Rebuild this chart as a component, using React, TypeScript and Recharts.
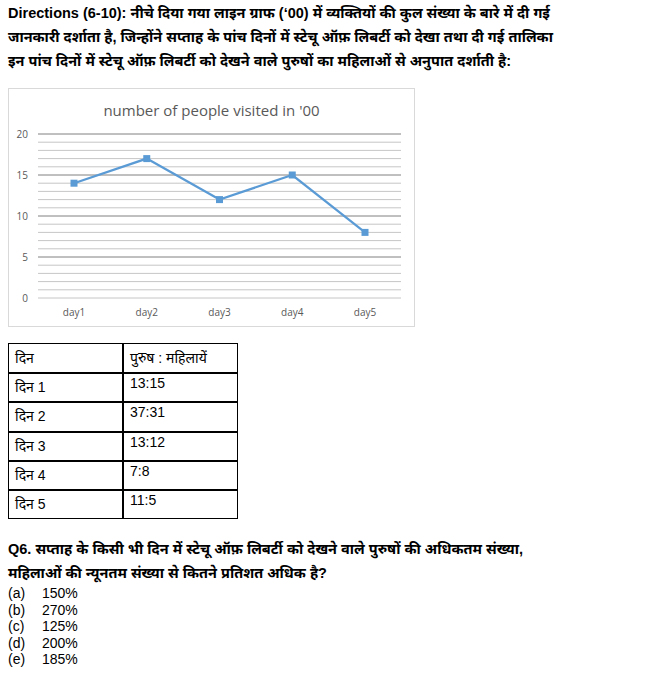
import React from "react";
import { LineChart, Line, XAxis, YAxis, ReferenceLine } from "recharts";

// chart data ('00 people)
const days = ["day1", "day2", "day3", "day4", "day5"];
const visitors = [14, 17, 12, 15, 8];
const yTicks = [0, 5, 10, 15, 20];
const minorLines = [
  0, 1, 2, 3, 4, 6, 7, 8, 9, 11, 12, 13, 14, 16, 17, 18, 19,
];
const majorLines = [5, 10, 15, 20];

// ratio table
const tableDays = ["दिन 1", "दिन 2", "दिन 3", "दिन 4", "दिन 5"];
const ratios = ["13:15", "37:31", "13:12", "7:8", "11:5"];

const options = ["(a)", "(b)", "(c)", "(d)", "(e)"];
const answers = ["150%", "270%", "125%", "200%", "185%"];

const chartData = days.map((d, i) => ({ day: d, value: visitors[i] }));

const textFont = "'Liberation Sans', Arial, 'Noto Sans', sans-serif";

function SquareDot(props: any) {
  const { cx, cy } = props;
  if (cx == null || cy == null) return null;
  return <rect x={cx - 3.5} y={cy - 3.5} width={7} height={7} fill="#5b9bd5" />;
}

const boldLine: React.CSSProperties = {
  position: "absolute",
  left: 8,
  fontWeight: "bold",
  fontSize: 14.5,
  whiteSpace: "nowrap",
  lineHeight: "20px",
};

export default function App() {
  const rowTops = [343, 372, 401, 431, 460, 489];
  return (
    <div
      style={{
        position: "absolute",
        left: 0,
        top: 0,
        width: 648,
        height: 673,
        background: "#fff",
        fontFamily: textFont,
        color: "#000",
        overflow: "hidden",
      }}
    >
      <div style={{ ...boldLine, top: 3 }}>
        Directions (6-10): नीचे दिया गया लाइन ग्राफ (‘00) में व्यक्तियों की कुल संख्या के बारे में दी गई
      </div>
      <div style={{ ...boldLine, top: 27 }}>
        जानकारी दर्शाता है, जिन्होंने सप्ताह के पांच दिनों में स्टेचू ऑफ़ लिबर्टी को देखा तथा दी गई तालिका
      </div>
      <div style={{ ...boldLine, top: 51 }}>
        इन पांच दिनों में स्टेचू ऑफ़ लिबर्टी को देखने वाले पुरुषों का महिलाओं से अनुपात दर्शाती है:
      </div>

      {/* chart box */}
      <div
        style={{
          position: "absolute",
          left: 8,
          top: 88,
          width: 405,
          height: 237,
          border: "1px solid #d9d9d9",
        }}
      >
        <div
          style={{
            position: "absolute",
            left: 0,
            width: 405,
            top: 11,
            textAlign: "center",
            fontSize: 15,
            color: "#595959",
            fontFamily: "'Open Sans', 'Liberation Sans', sans-serif",
          }}
        >
          number of people visited in '00
        </div>
        <LineChart
          width={405}
          height={237}
          data={chartData}
          margin={{ top: 45, right: 13, left: 0, bottom: 0 }}
        >
          <XAxis
            dataKey="day"
            axisLine={false}
            tickLine={false}
            padding={{ left: 36, right: 36 }}
            tick={{ fill: "#595959", fontSize: 10, fontFamily: "'Open Sans', sans-serif" }}
            tickMargin={5}
            height={28}
          />
          <YAxis
            domain={[0, 20]}
            ticks={yTicks}
            axisLine={false}
            tickLine={false}
            width={29}
            tick={{ fill: "#595959", fontSize: 10, fontFamily: "'Open Sans', sans-serif" }}
            tickMargin={4}
          />
          {minorLines.map((v) => (
            <ReferenceLine key={"m" + v} y={v} stroke="#c6c6c6" strokeWidth={1} />
          ))}
          {majorLines.map((v) => (
            <ReferenceLine key={"M" + v} y={v} stroke="#808080" strokeWidth={1} />
          ))}
          <Line
            type="linear"
            dataKey="value"
            stroke="#5b9bd5"
            strokeWidth={2.25}
            dot={<SquareDot />}
            activeDot={false}
            isAnimationActive={false}
          />
        </LineChart>
      </div>

      {/* ratio table */}
      <div
        style={{
          position: "absolute",
          left: 8,
          top: 343,
          width: 230,
          height: 176,
          border: "1.5px solid #000",
          boxSizing: "border-box",
        }}
      />
      <div
        style={{
          position: "absolute",
          left: 122,
          top: 343,
          width: 1.5,
          height: 176,
          background: "#000",
        }}
      />
      {rowTops.slice(1).map((t) => (
        <div
          key={t}
          style={{
            position: "absolute",
            left: 8,
            top: t,
            width: 230,
            height: 1.5,
            background: "#000",
          }}
        />
      ))}
      <div style={{ position: "absolute", left: 15, top: 348, fontSize: 14, lineHeight: "20px" }}>
        दिन
      </div>
      <div style={{ position: "absolute", left: 130, top: 348, fontSize: 14, lineHeight: "20px" }}>
        पुरुष : महिलायें
      </div>
      {tableDays.map((d, i) => (
        <React.Fragment key={d}>
          <div
            style={{
              position: "absolute",
              left: 15,
              top: rowTops[i + 1] + 5,
              fontSize: 14,
              lineHeight: "20px",
            }}
          >
            {d}
          </div>
          <div
            style={{
              position: "absolute",
              left: 130,
              top: rowTops[i + 1] + 2,
              fontSize: 14,
              lineHeight: "18px",
            }}
          >
            {ratios[i]}
          </div>
        </React.Fragment>
      ))}

      {/* question */}
      <div style={{ ...boldLine, top: 539 }}>
        Q6. सप्ताह के किसी भी दिन में स्टेचू ऑफ़ लिबर्टी को देखने वाले पुरुषों की अधिकतम संख्या,
      </div>
      <div style={{ ...boldLine, top: 563 }}>
        महिलाओं की न्यूनतम संख्या से कितने प्रतिशत अधिक है?
      </div>
      {options.map((o, i) => (
        <React.Fragment key={o}>
          <div
            style={{
              position: "absolute",
              left: 8,
              top: 585 + i * 16.5,
              fontSize: 14,
              lineHeight: "16px",
            }}
          >
            {o}
          </div>
          <div
            style={{
              position: "absolute",
              left: 42,
              top: 585 + i * 16.5,
              fontSize: 14,
              lineHeight: "16px",
            }}
          >
            {answers[i]}
          </div>
        </React.Fragment>
      ))}
    </div>
  );
}
